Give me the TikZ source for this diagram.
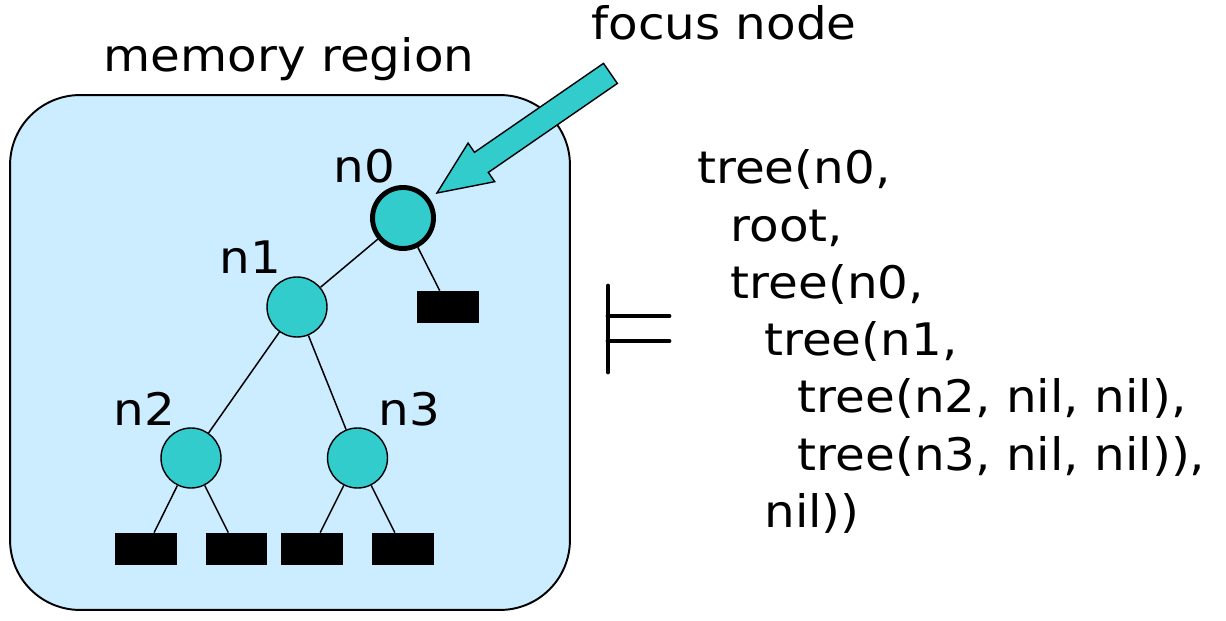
\documentclass[tikz,border=0pt]{standalone}
\usepackage{fontspec}
\setmainfont[FakeStretch=1.08]{DejaVu Sans}
\usetikzlibrary{positioning,shapes.arrows,calc}
\definecolor{memblue}{HTML}{CCECFF}
\definecolor{nodecyan}{HTML}{33CCCC}
\tikzset{
  lbl/.style={font=\fontsize{25.5}{32.5}\selectfont, inner sep=0pt},
  region/.style={draw, fill=memblue, rounded corners=1.4cm, line width=1.1pt},
  tnode/.style={draw, circle, fill=nodecyan, minimum size=1.2cm, inner sep=0pt, line width=0.8pt},
  leaf/.style={rectangle, fill=black, minimum width=1.24cm, minimum height=0.64cm, inner sep=0pt},
  edge/.style={line width=0.85pt},
  fatarr/.style={single arrow, draw, fill=nodecyan, line width=0.8pt, inner xsep=0pt, inner ysep=0.23cm,
    single arrow head extend=0.225cm, single arrow tip angle=47},
  ent/.style={line width=2.8pt, line cap=round},
}
\begin{document}
\begin{tikzpicture}[x=0.02cm, y=-0.02cm]
\useasboundingbox (0,0) rectangle (1226,621);

% memory region
\node[region, minimum width=11.2cm, minimum height=10.3cm] (mem) at (290,352.5) {};
\node[lbl, anchor=base] (memlbl) at (289,72) {memory region};

% tree
\node[tnode, line width=2.8pt, minimum size=1.22cm] (n0) at (403,218) {};
\node[tnode] (n1) at (297,307) {};
\node[tnode] (n2) at (191,458) {};
\node[tnode] (n3) at (357.5,458) {};
\node[leaf] (l0) at (448,307) {};
\node[leaf] (l1) at (146,549) {};
\node[leaf] (l2) at (236.5,549) {};
\node[leaf] (l3) at (312,549) {};
\node[leaf] (l4) at (403,549) {};

\node[lbl, anchor=base west] (t0) at (333,183) {n0};
\node[lbl, anchor=base west] (t1) at (219,274) {n1};
\node[lbl, anchor=base west] (t2) at (113,425) {n2};
\node[lbl, anchor=base west] (t3) at (378,425) {n3};

\draw[edge] (n0) -- (n1);
\draw[edge] (n0) -- (l0);
\draw[edge] (n1) -- (n2);
\draw[edge] (n1) -- (n3);
\draw[edge] (n2) -- (l1);
\draw[edge] (n2) -- (l2);
\draw[edge] (n3) -- (l3);
\draw[edge] (n3) -- (l4);

% focus pointer
\node[lbl, anchor=base west] (focuslbl) at (591,40) {focus node};
\coordinate (ftail) at (611,73);
\coordinate (ftip) at (437,193);
\path let \p1=($(ftip)-(ftail)$) in
  node[fatarr, anchor=tail, minimum height={veclen(\x1,\y1)}, rotate={atan2(\y1,\x1)}] (focus)
  at (ftail) {};

% entailment sign
\draw[ent] (608,286) -- (608,372);
\draw[ent] (608,316) -- (669,316) (608,341) -- (669,341);

% formula, one line per node
\foreach \ind/\code [count=\i from 0] in {0/{tree(n0,}, 1/{root,}, 1/{tree(n0,},
    2/{tree(n1,}, 3/{tree(n2, nil, nil),}, 3/{tree(n3, nil, nil)),}, 2/{nil))}}
  \node[lbl, anchor=base west] (f\i) at (697+33.5*\ind, 184+57.2*\i) {\code};

\end{tikzpicture}
\end{document}
